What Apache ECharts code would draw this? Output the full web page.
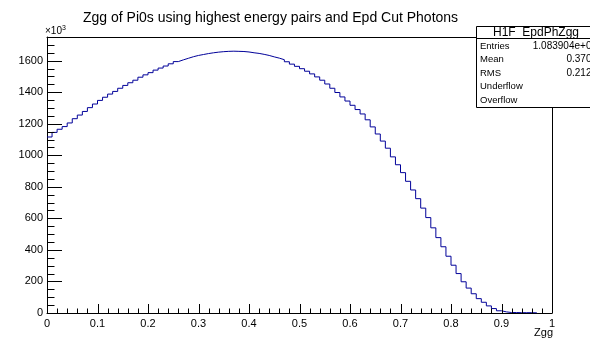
<!DOCTYPE html>
<html><head><meta charset="utf-8">
<script src="https://cdn.jsdelivr.net/npm/echarts@6/dist/echarts.min.js"></script>
<style>html,body{margin:0;padding:0;background:#fff}#c{width:590px;height:339px}</style>
</head><body><div id="c"></div>
<script>
const titleText = "Zgg of Pi0s using highest energy pairs and Epd Cut Photons";
const binWidth = 0.01;
// bin contents (units of 10^3), bins 0..96 starting at Zgg=0
const binValues = [
 1116,1145,1165,1182,1205,1232,1255,1278,1302,1325,
 1348,1368,1388,1405,1425,1443,1460,1476,1495,1510,
 1524,1540,1553,1566,1580,1594,1605,1615,1625,1633,
 1639,1645,1650,1654,1657,1659,1660,1659,1658,1655,
 1650,1646,1640,1633,1624,1616,1606,1593,1578,1564,
 1549,1533,1516,1497,1476,1452,1425,1398,1370,1344,
 1317,1290,1262,1225,1180,1135,1090,1045,990,940,
 890,835,780,725,665,605,540,478,420,360,
 303,250,198,158,122,91,68,45,28,14,
 7,3,3,2,2,2,1
];
const xTicks = [0,0.1,0.2,0.3,0.4,0.5,0.6,0.7,0.8,0.9,1];
const xMinorTicks = [0.02,0.04,0.06,0.08,0.12,0.14,0.16,0.18,0.22,0.24,0.26,0.28,0.32,0.34,0.36,0.38,0.42,0.44,0.46,0.48,0.52,0.54,0.56,0.58,0.62,0.64,0.66,0.68,0.72,0.74,0.76,0.78,0.82,0.84,0.86,0.88,0.92,0.94,0.96,0.98];
const yTicks = [0,200,400,600,800,1000,1200,1400,1600];
const yMinorTicks = [50,100,150,250,300,350,450,500,550,650,700,750,850,900,950,1050,1100,1150,1250,1300,1350,1450,1500,1550,1650,1700];
const statsName = "H1F_EpdPhZgg";
const statsLabels = ["Entries","Mean","RMS","Underflow","Overflow"];
const statsValues = ["1.083904e+07","0.3705","0.2127","0","0"];

const pts = binValues.map((v,i)=>[+(i*binWidth).toFixed(4), v]);
pts.push([+(binValues.length*binWidth).toFixed(4), binValues[binValues.length-1]]);

const FONT = "Liberation Sans";
const chart = echarts.init(document.getElementById('c'), null, {renderer:'canvas'});
const G = {left:47, top:37, w:505, h:276};

const graphics = [];
const bx = 476, by = 26, bw = 130, bh = 81;
graphics.push({type:'rect', shape:{x:bx+0.5,y:by+0.5,width:bw,height:bh}, style:{fill:'#fff', stroke:'#000', lineWidth:1}, z:100});
graphics.push({type:'line', shape:{x1:bx,y1:by+12.5,x2:bx+bw,y2:by+12.5}, style:{stroke:'#000', lineWidth:1}, z:101});
graphics.push({type:'text', style:{text:statsName, x:bx+60, y:by+6.5, textAlign:'center', textVerticalAlign:'middle', font:'12px "'+FONT+'"', fill:'#000'}, z:102});
statsLabels.forEach((t,i)=>{
  const yy = by + 20 + i*13.6;
  graphics.push({type:'text', style:{text:t, x:bx+4, y:yy, textAlign:'left', textVerticalAlign:'middle', font:'9.5px "'+FONT+'"', fill:'#000'}, z:102});
  graphics.push({type:'text', style:{text:statsValues[i], x:597, y:yy, textAlign:'right', textVerticalAlign:'middle', font:'10px "'+FONT+'"', fill:'#000'}, z:102});
});
graphics.push({type:'text', style:{text:'{a|×10}{b|3}', x:45, y:31, textVerticalAlign:'middle', rich:{a:{fontFamily:FONT,fontSize:10,fill:'#000'}, b:{fontFamily:FONT,fontSize:7,verticalAlign:'top',padding:[0,0,6,0],fill:'#000'}}}, z:50});
graphics.push({type:'text', style:{text:'Zgg', x:553, y:333, textAlign:'right', textVerticalAlign:'middle', font:'11px "'+FONT+'"', fill:'#000'}, z:50});

// tick data: [value, length in px]
const xTickData = xTicks.map(v=>[v, 9]).concat(xMinorTicks.map(v=>[v, 4.5]));
const yTickData = yTicks.map(v=>[0, v, 15]).concat(yMinorTicks.map(v=>[0, v, 7.5]));

const frameAxis = {axisTick:{show:false}, axisLabel:{show:false}, splitLine:{show:false}};
chart.setOption({
  animation:false,
  title:{text:titleText, left:78, top:6, textStyle:{fontFamily:FONT, fontSize:14, fontWeight:'normal', color:'#000'}},
  grid:{left:G.left, top:G.top, width:G.w, height:G.h, show:false},
  xAxis:[{
    type:'value', min:0, max:1, interval:0.1,
    axisLine:{show:true, onZero:false, lineStyle:{color:'#000', width:1}},
    axisTick:{show:false},
    splitLine:{show:false},
    axisLabel:{margin:5, fontFamily:FONT, fontSize:11, color:'#000',
      formatter:(v)=>{ const t = xTicks.find(x=>Math.abs(x-v)<1e-9); return t===undefined?'':(t===0||t===1?String(t):t.toFixed(1)); }}
  },{
    type:'value', min:0, max:1, position:'top', axisLine:{show:true, onZero:false, lineStyle:{color:'#000'}}, ...frameAxis
  }],
  yAxis:[{
    type:'value', min:0, max:1750, interval:200,
    axisLine:{show:true, onZero:false, lineStyle:{color:'#000'}},
    axisTick:{show:false},
    splitLine:{show:false},
    axisLabel:{margin:4, fontFamily:FONT, fontSize:11, color:'#000', formatter:(v)=> (v%200===0? String(v):'')}
  },{
    type:'value', min:0, max:1750, position:'right', axisLine:{show:true, onZero:false, lineStyle:{color:'#000'}}, ...frameAxis
  }],
  series:[{
    type:'line', step:'end', data:pts, xAxisIndex:0, yAxisIndex:0,
    showSymbol:false, symbol:'none', lineStyle:{color:'#000099', width:1}, z:5
  },{
    type:'custom', xAxisIndex:0, yAxisIndex:0, clip:false, silent:true, zlevel:1, z:20,
    encode:{x:0, y:-1},
    data:xTickData,
    renderItem:(params, api)=>{
      const p = api.coord([api.value(0), 0]);
      const x = Math.round(p[0]);
      const len = api.value(1);
      return {type:'rect', shape:{x:x, y:Math.round(p[1])-len, width:1, height:len}, style:{fill:'#000'}};
    }
  },{
    type:'custom', xAxisIndex:0, yAxisIndex:0, clip:false, silent:true, zlevel:1, z:20,
    encode:{x:0, y:1},
    data:yTickData,
    renderItem:(params, api)=>{
      const p = api.coord([0, api.value(1)]);
      const y = Math.round(p[1]);
      return {type:'rect', shape:{x:Math.round(p[0]), y:y, width:api.value(2), height:1}, style:{fill:'#000'}};
    }
  }],
  graphic:graphics
});
</script></body></html>
